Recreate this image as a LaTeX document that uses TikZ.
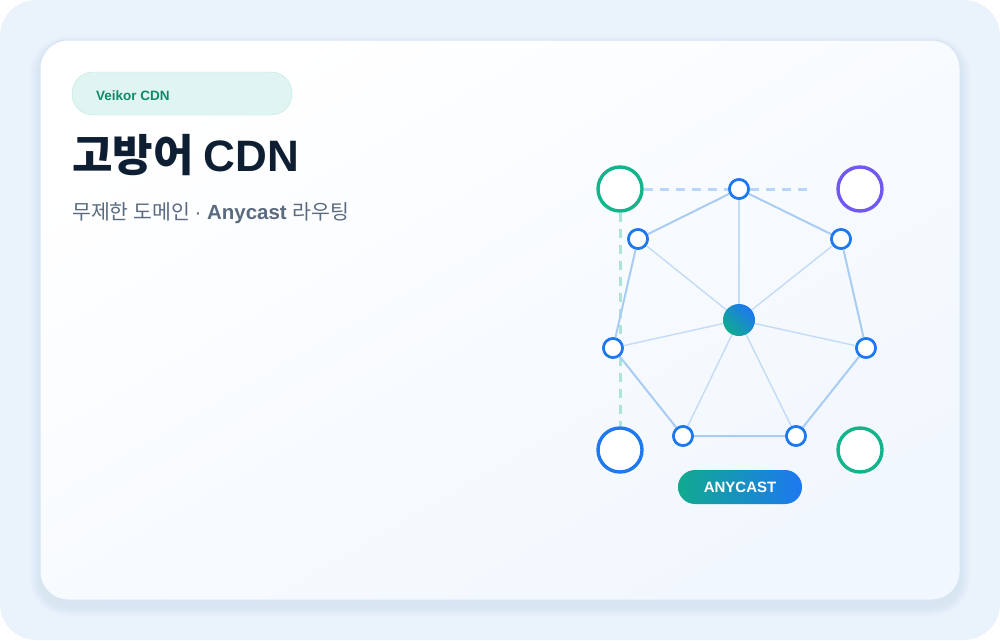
\documentclass[tikz,border=0pt]{standalone}
\usepackage{fontspec}
\setmainfont{Noto Sans CJK KR}
\newfontfamily\lat{Liberation Sans}
\definecolor{bgout}{HTML}{EAF3FC}
\definecolor{cardb}{HTML}{D6E4F2}
\definecolor{edge}{HTML}{A9CCF5}
\definecolor{spoke}{HTML}{C3DBF7}
\definecolor{nblue}{HTML}{1E78F0}
\definecolor{ngreen}{HTML}{12B48C}
\definecolor{npurple}{HTML}{7059F0}
\definecolor{teal}{HTML}{10AA90}
\definecolor{titlec}{HTML}{0F1F33}
\definecolor{subc}{HTML}{5A6B80}
\definecolor{pillb}{HTML}{BDE8DF}
\definecolor{pillf}{HTML}{E0F5F1}
\definecolor{pillt}{HTML}{0E8A6A}
\definecolor{cardf}{HTML}{F1F7FE}
\definecolor{shad}{HTML}{C9DCF0}
\begin{document}
\begin{tikzpicture}[x=1pt,y=-1pt,
  small/.style={circle,draw=nblue,line width=2.6pt,fill=white,minimum size=19pt,inner sep=0pt},
  big/.style={circle,line width=3.4pt,fill=white,minimum size=44pt,inner sep=0pt},
  ring/.style={draw=edge,line width=2pt},
  sp/.style={draw=spoke,line width=1.4pt}]
\useasboundingbox (0,0) rectangle (1000,640);
\fill[bgout,rounded corners=36pt] (0,0) rectangle (1000,640);
\foreach \i in {1,...,10} \fill[shad,opacity=0.06,rounded corners=28pt+\i pt] (40-\i,46-\i) rectangle (960+\i,606+\i);
\shade[rounded corners=28pt,shading=axis,top color=white,bottom color=cardf,shading angle=30] (40,40) rectangle (960,600);
\draw[cardb,line width=1pt,rounded corners=28pt] (40,40) rectangle (960,600);
\node[draw=pillb,fill=pillf,rounded corners=21pt,minimum width=220pt,minimum height=43pt] (pill) at (182,93.5) {};
\node[anchor=west,text=pillt,font=\lat\fontsize{13.5}{13.5}\selectfont\bfseries,inner sep=0pt] (pt) at (96,96) {Veikor CDN};
\node[anchor=west,text=titlec,font=\fontsize{44}{44}\selectfont\bfseries,inner sep=0pt] (title) at (72,155) {고방어 {\lat CDN}};
\node[anchor=west,text=subc,font=\fontsize{20.5}{20.5}\selectfont,inner sep=0pt] (sub) at (72,213) {무제한 도메인 {\lat · \textbf{Anycast} }라우팅};
\node[small] (t) at (739,189) {};
\node[small] (ul) at (638,239) {};
\node[small] (ur) at (841,239) {};
\node[small] (l) at (613,348) {};
\node[small] (r) at (866,348) {};
\node[small] (bl) at (683,436) {};
\node[small] (br) at (796,436) {};
\node[big,draw=ngreen] (c1) at (620,189) {};
\node[big,draw=npurple] (c2) at (860,189) {};
\node[big,draw=nblue] (c3) at (620,450) {};
\node[big,draw=ngreen] (c4) at (860,450) {};
\coordinate (de) at (812,189);
\draw[dash pattern=on 9pt off 7pt,draw=edge!80,line width=3pt] (c1.east) -- (t.west);
\draw[dash pattern=on 9pt off 7pt,draw=edge!80,line width=3pt] (t.east) -- (de);
\draw[dash pattern=on 9pt off 7pt,draw=ngreen!35,line width=3pt] (c1.south) -- (c3.north);
\foreach \n in {t,ul,ur,l,r,bl,br} \draw[sp] (739,320) -- (\n);
\draw[ring] (t)--(ul) (t)--(ur) (ul)--(l) (ur)--(r) (l)--(bl) (r)--(br) (bl)--(br);
\foreach \n in {t,ul,ur,l,r,bl,br} \node[small] at (\n) {};
\node[circle,minimum size=32pt,inner sep=0pt,shading=axis,left color=teal,right color=nblue,shading angle=135] (ctr) at (739,320) {};
\node[rounded corners=17pt,minimum width=124pt,minimum height=34pt,shading=axis,left color=teal,right color=nblue,text=white,font=\lat\fontsize{15}{15}\selectfont\bfseries] (any) at (740,487) {ANYCAST};
\end{tikzpicture}
\end{document}
